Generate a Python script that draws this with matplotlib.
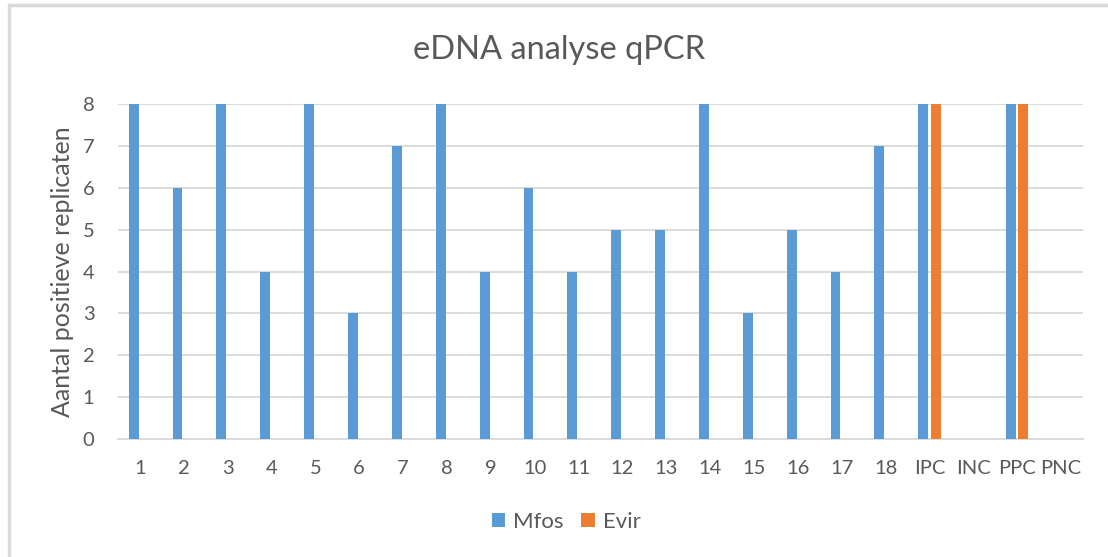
import matplotlib.pyplot as plt
import matplotlib.patches as mpatches
import numpy as np

# data
categories = ['1', '2', '3', '4', '5', '6', '7', '8', '9', '10', '11', '12',
              '13', '14', '15', '16', '17', '18', 'IPC', 'INC', 'PPC', 'PNC']
mfos = [8, 6, 8, 4, 8, 3, 7, 8, 4, 6, 4, 5, 5, 8, 3, 5, 4, 7, 8, 0, 8, 0]
evir = [0, 0, 0, 0, 0, 0, 0, 0, 0, 0, 0, 0, 0, 0, 0, 0, 0, 0, 8, 0, 8, 0]

blue = '#5B9BD5'
orange = '#ED7D31'
txt = '#595959'

plt.rcParams['font.family'] = ['Lato', 'DejaVu Sans']

fig = plt.figure(figsize=(11.08, 5.57), dpi=100)
ax = fig.add_axes([0.1065, 0.2118, 0.8709, 0.6015])

x = np.arange(len(categories))
w = 0.225
ax.bar(x - w / 2 - 0.03, mfos, w, color=blue, label='Mfos', zorder=3)
ax.bar(x + w / 2 + 0.03, evir, w, color=orange, label='Evir', zorder=3)

ax.set_xlim(-0.5, len(categories) - 0.5)
ax.set_ylim(0, 8)
ax.set_yticks(range(0, 9))
ax.set_xticks(x)
ax.set_xticklabels(categories)
ax.tick_params(axis='both', length=0, labelsize=14.5, colors=txt)
ax.tick_params(axis='x', pad=15)
ax.tick_params(axis='y', pad=17)
ax.grid(axis='y', color='#D9D9D9', lw=1.3, zorder=0)
for s in ['top', 'right', 'left']:
    ax.spines[s].set_visible(False)
ax.spines['bottom'].set_color('#D9D9D9')
ax.spines['bottom'].set_linewidth(1.3)

ax.set_ylabel('Aantal positieve replicaten', fontsize=18, color=txt, labelpad=6)
fig.text(0.505, 0.91, 'eDNA analyse qPCR', ha='center', va='center',
         fontsize=23.5, color=txt)

ax.legend(loc='center', bbox_to_anchor=(0.511, 0.063), bbox_transform=fig.transFigure,
          ncol=2, frameon=False, fontsize=16, labelcolor=txt,
          handlelength=0.6, handleheight=0.6, handletextpad=0.35, columnspacing=0.8)

# outer chart border (left and top visible)
fig.patches.append(mpatches.Rectangle((9 / 1108, -0.05), 1.2, 1.05 - 5 / 557,
                                      transform=fig.transFigure, fill=False,
                                      edgecolor='#D9D9D9', lw=2.5))

fig.savefig('out.png', dpi=100)
